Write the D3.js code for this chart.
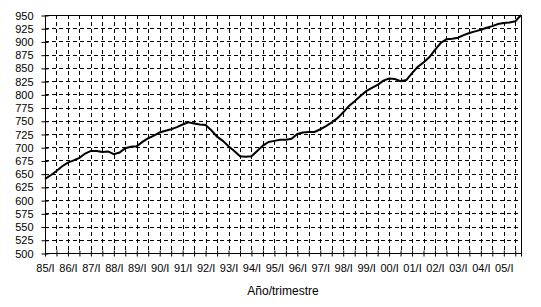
<!DOCTYPE html>
<html>
<head>
<meta charset="utf-8">
<script src="https://cdn.jsdelivr.net/npm/d3@7"></script>
<style>
  body { margin: 0; background: #fff; }
  text { font-family: "Liberation Sans", Arial, sans-serif; }
</style>
</head>
<body>
<div id="chart"></div>
<script>
"use strict";

// years and quarters on the category axis
let years = ["85", "86", "87", "88", "89", "90", "91", "92", "93", "94", "95",
             "96", "97", "98", "99", "00", "01", "02", "03", "04", "05"];
let quarters = ["I", "II", "III", "IV"];

// quarterly values, 85/I to 05/IV
let values = [
    640, 647, 655, 664,   671, 675, 680, 688,   693, 693, 691, 692,
    687, 690, 698, 701,   702, 710, 717, 722,   728, 731, 734, 738,
    743, 747, 745, 743,   742, 732, 720, 712,   702, 693, 683, 682,
    683, 693, 703, 710,   712, 714, 714, 716,   725, 728, 729, 729,
    734, 740, 747, 755,   766, 778, 787, 797,   806, 812, 818, 826,
    830, 829, 825, 827,   840, 852, 860, 870,   884, 897, 904, 905,
    907, 912, 916, 919,   922, 926, 929, 933,   935, 936, 938, 950
];

let yTicks = d3.range(500, 951, 25);

// building category labels like "85/I"
let categories = [];
years.forEach(function (y) {
    quarters.forEach(function (q) {
        categories.push(y + "/" + q);
    });
});

let data = categories.map(function (c, i) {
    return { cat: c, value: values[i] };
});

/* SVG SETUP */
let svgWidth = 541;
let svgHeight = 307;
let plotLeft = 45, plotRight = 521, plotTop = 15, plotBottom = 253;

let svg = d3.select("#chart")
    .append("svg")
    .attr("width", svgWidth)
    .attr("height", svgHeight);

/* SCALES */
let xScale = d3.scalePoint()
    .domain(categories)
    .range([plotLeft, plotRight]);

let yScale = d3.scaleLinear()
    .domain([500, 950])
    .range([plotBottom, plotTop]);

/* GRID */
// horizontal dashed lines every 25
svg.append("g")
    .selectAll("line")
    .data(yTicks.slice(1, -1))
    .join("line")
    .attr("x1", plotLeft)
    .attr("x2", plotRight)
    .attr("y1", d => Math.round(yScale(d)) + 0.5)
    .attr("y2", d => Math.round(yScale(d)) + 0.5)
    .attr("stroke", "#000")
    .attr("stroke-width", 1)
    .attr("stroke-dasharray", "4,3");

// vertical dashed lines every 2 quarters
let gridCats = categories.filter((c, i) => i % 2 === 0 && i > 0);
svg.append("g")
    .selectAll("line")
    .data(gridCats)
    .join("line")
    .attr("x1", d => Math.round(xScale(d)) + 0.5)
    .attr("x2", d => Math.round(xScale(d)) + 0.5)
    .attr("y1", plotTop)
    .attr("y2", plotBottom)
    .attr("stroke", "#000")
    .attr("stroke-width", 1)
    .attr("stroke-dasharray", "4,3");

// plot border
svg.append("rect")
    .attr("x", plotLeft + 0.5)
    .attr("y", plotTop + 0.5)
    .attr("width", plotRight - plotLeft)
    .attr("height", plotBottom - plotTop)
    .attr("fill", "none")
    .attr("stroke", "#000")
    .attr("stroke-width", 1);

/* AXES */
let xAxis = d3.axisBottom(xScale)
    .tickValues(categories.filter((c, i) => i % 2 === 0).concat([categories[categories.length - 1]]))
    .tickSize(3)
    .tickFormat(c => categories.indexOf(c) % 4 === 0 ? c : "");

let gx = svg.append("g")
    .attr("transform", "translate(0," + (plotBottom + 0.5) + ")")
    .call(xAxis);
gx.select(".domain").remove();
gx.selectAll(".tick line").attr("y1", -3).attr("y2", 3);
gx.selectAll(".tick text")
    .attr("y", 11)
    .attr("font-size", "11px")
    .attr("fill", "#000");

let yAxis = d3.axisLeft(yScale)
    .tickValues(yTicks)
    .tickSize(4)
    .tickPadding(8);

let gy = svg.append("g")
    .attr("transform", "translate(" + (plotLeft + 0.5) + ",0.5)")
    .call(yAxis);
gy.select(".domain").remove();
gy.selectAll(".tick line").attr("x1", -4).attr("x2", 3);
gy.selectAll(".tick text")
    .attr("font-size", "11px")
    .attr("fill", "#000");

svg.selectAll(".tick text").attr("font-family", "'Liberation Sans', Arial, sans-serif");

/* LINE */
let line = d3.line()
    .x(d => xScale(d.cat))
    .y(d => yScale(d.value));

svg.append("path")
    .datum(data)
    .attr("d", line)
    .attr("fill", "none")
    .attr("stroke", "#000")
    .attr("stroke-width", 2);

// axis title
svg.append("text")
    .attr("x", 283)
    .attr("y", 295)
    .attr("text-anchor", "middle")
    .attr("font-size", "12px")
    .text("Año/trimestre");
</script>
</body>
</html>
